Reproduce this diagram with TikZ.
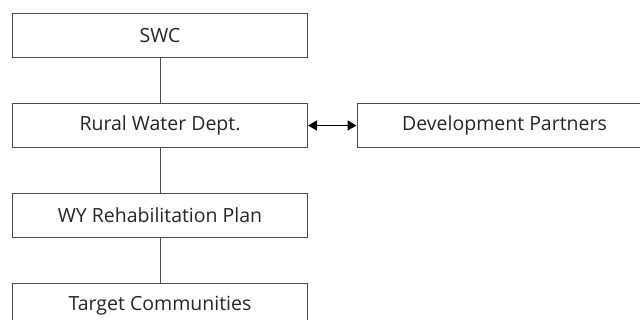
\documentclass[tikz,border=0pt]{standalone}
\usepackage{fontspec}
\setmainfont{Open Sans}
\usetikzlibrary{arrows.meta}
\definecolor{edge}{HTML}{4D4D4D}
\definecolor{ink}{HTML}{262626}
\begin{document}
\begin{tikzpicture}[x=1pt,y=-1pt,
  orgbox/.style={draw=edge,line width=1pt,fill=white,minimum width=295pt,minimum height=44pt,
    inner sep=0pt,text=ink,font=\fontsize{19.5}{22}\selectfont},
  link/.style={draw=edge,line width=1pt},
  twoway/.style={draw=black,line width=1.4pt,{Triangle[length=9pt,width=10pt]}-{Triangle[length=9pt,width=10pt]}}]
\useasboundingbox (0,0) rectangle (640,320);
\clip (0,0) rectangle (640,320);
\fill[white] (0,0) rectangle (640,320);
\node[orgbox] (swc)    at (160,35.3)  {SWC};
\node[orgbox] (rural)  at (160,125.5) {Rural Water Dept.};
\node[orgbox] (plan)   at (160,215.5) {WY Rehabilitation Plan};
\node[orgbox] (target) at (160,305.5) {Target Communities};
\node[orgbox] (dev)    at (504.5,125.5) {Development Partners};
\draw[link] (swc) -- (rural);
\draw[link] (rural) -- (plan);
\draw[link] (plan) -- (target);
\draw[twoway] (rural.east) -- (dev.west);
\end{tikzpicture}
\end{document}
